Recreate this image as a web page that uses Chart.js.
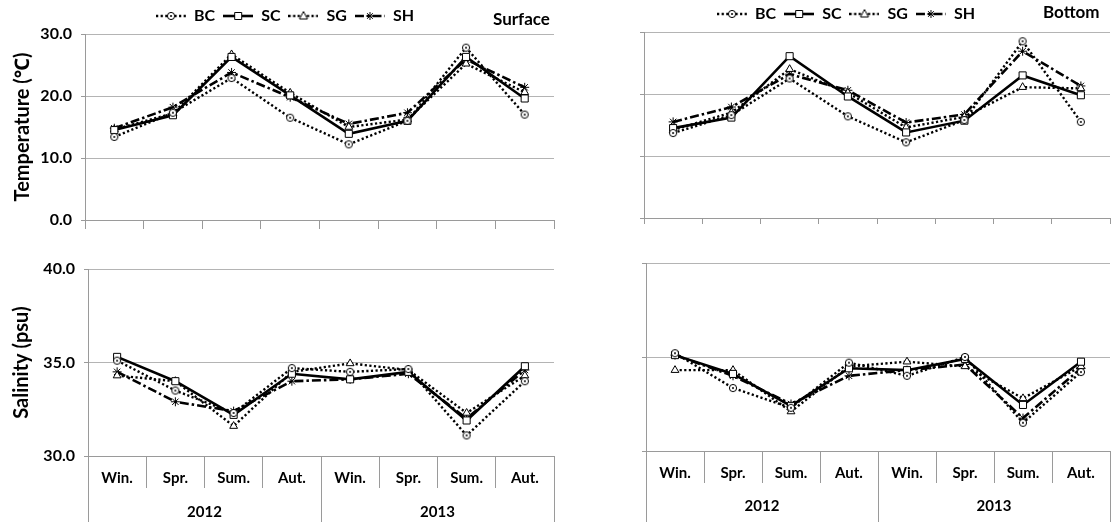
<!DOCTYPE html>
<html>
<head>
<meta charset="utf-8">
<script src="https://cdn.jsdelivr.net/npm/chart.js@4.4.1/dist/chart.umd.min.js"></script>
<style>
  body { margin: 0; background: #fff; width: 1116px; height: 522px; position: relative; overflow: hidden; font-family: Lato, "Noto Sans", sans-serif; }
  .panel { position: absolute; }
  .tag { position: absolute; font-weight: bold; font-size: 17px; line-height: 20px; color: #000; }
</style>
</head>
<body>
<canvas id="tempSurf" class="panel" width="560" height="240" style="left:0;top:0"></canvas>
<canvas id="tempBot" class="panel" width="556" height="240" style="left:560px;top:0"></canvas>
<canvas id="salSurf" class="panel" width="560" height="282" style="left:0;top:240px"></canvas>
<canvas id="salBot" class="panel" width="556" height="282" style="left:560px;top:240px"></canvas>
<div class="tag" style="left:493px;top:9px">Surface</div>
<div class="tag" style="left:1043px;top:2px">Bottom</div>

<script>
const seasons = ['Win.', 'Spr.', 'Sum.', 'Aut.', 'Win.', 'Spr.', 'Sum.', 'Aut.'];
const years = ['2012', '2013'];
const seriesNames = ['BC', 'SC', 'SG', 'SH'];

// temperature, surface
const tempSurfBC = [13.4, 17.3, 22.9, 16.5, 12.2, 16.0, 27.8, 17.0];
const tempSurfSC = [14.5, 16.9, 26.3, 20.1, 13.9, 16.0, 26.3, 19.6];
const tempSurfSG = [14.6, 17.2, 26.7, 20.5, 15.0, 16.2, 25.2, 20.6];
const tempSurfSH = [14.8, 18.2, 23.8, 19.8, 15.5, 17.3, 25.9, 21.4];

// temperature, bottom
const tempBotBC = [13.7, 16.6, 22.5, 16.4, 12.2, 15.8, 28.5, 15.5];
const tempBotSC = [14.5, 16.2, 26.1, 19.6, 13.8, 15.7, 23.0, 19.8];
const tempBotSG = [14.2, 17.0, 24.0, 20.2, 14.6, 16.3, 21.1, 20.9];
const tempBotSH = [15.5, 17.9, 23.2, 20.6, 15.4, 16.7, 26.9, 21.3];

// salinity, surface
const salSurfBC = [35.1, 33.5, 32.3, 34.7, 34.5, 34.65, 31.1, 34.0];
const salSurfSC = [35.3, 34.0, 32.2, 34.4, 34.1, 34.5, 31.9, 34.8];
const salSurfSG = [34.3, 34.0, 31.6, 34.5, 34.95, 34.6, 32.3, 34.3];
const salSurfSH = [34.5, 32.9, 32.4, 34.0, 34.1, 34.4, 32.0, 34.6];

// salinity, bottom
const salBotBC = [35.2, 33.35, 32.3, 34.7, 34.0, 35.0, 31.5, 34.2];
const salBotSC = [35.1, 34.1, 32.4, 34.4, 34.3, 34.9, 32.45, 34.75];
const salBotSG = [34.3, 34.3, 32.1, 34.5, 34.75, 34.5, 32.8, 34.5];
const salBotSH = [35.1, 34.0, 32.5, 34.0, 34.3, 34.6, 31.75, 34.4];

const gridColor = '#b4b4b4';
const axisColor = '#9a9a9a';
const family = 'Lato, "Noto Sans", sans-serif';

const lineStyles = [
  { dash: [2.2, 2.4], width: 2.4, marker: 'circleDot', radius: 4 },
  { dash: [], width: 2.6, marker: 'rect', radius: 5 },
  { dash: [2.2, 2.4], width: 2.4, marker: 'triangle', radius: 4.5 },
  { dash: [9, 3, 2.5, 3], width: 2.6, marker: 'star', radius: 4.5 }
];

function drawMarker(g, kind, x, y) {
  g.setLineDash([]);
  g.lineWidth = 1;
  g.strokeStyle = '#000';
  g.fillStyle = '#fff';
  g.beginPath();
  if (kind === 'circleDot') {
    g.arc(x, y, 3.6, 0, Math.PI * 2);
    g.fill(); g.stroke();
    g.fillStyle = '#000';
    g.beginPath();
    g.arc(x, y, 1, 0, Math.PI * 2);
    g.fill();
  } else if (kind === 'rect') {
    g.rect(x - 3.5, y - 3.5, 7, 7);
    g.fill(); g.stroke();
  } else if (kind === 'triangle') {
    g.moveTo(x, y - 4.5); g.lineTo(x + 4, y + 3); g.lineTo(x - 4, y + 3);
    g.closePath();
    g.fill(); g.stroke();
  } else {
    for (let k = 0; k < 4; k++) {
      const a = k * Math.PI / 4;
      g.moveTo(x - 4 * Math.cos(a), y - 4 * Math.sin(a));
      g.lineTo(x + 4 * Math.cos(a), y + 4 * Math.sin(a));
    }
    g.stroke();
  }
}

function circleDotImage() {
  const c = document.createElement('canvas');
  c.width = 10; c.height = 10;
  drawMarker(c.getContext('2d'), 'circleDot', 5, 5);
  return c;
}

function legendIcon(st) {
  const c = document.createElement('canvas');
  c.width = 30; c.height = 12;
  const g = c.getContext('2d');
  g.strokeStyle = '#000';
  g.lineWidth = st.width;
  g.setLineDash(st.dash);
  g.beginPath();
  g.moveTo(0, 6); g.lineTo(30, 6);
  g.stroke();
  drawMarker(g, st.marker, 15, 6);
  return c;
}

const bcPoint = circleDotImage();
const legendIcons = lineStyles.map(legendIcon);

function makeDatasets(values) {
  return values.map((data, i) => ({
    label: seriesNames[i],
    data: data,
    borderColor: '#000',
    borderWidth: lineStyles[i].width,
    borderDash: lineStyles[i].dash,
    backgroundColor: '#fff',
    pointStyle: lineStyles[i].marker === 'circleDot' ? bcPoint : lineStyles[i].marker,
    pointRadius: lineStyles[i].radius,
    pointBorderWidth: 1,
    pointBorderColor: '#000',
    pointBackgroundColor: '#fff',
    tension: 0
  }));
}

function makeChart(id, values, o) {
  const tickFont = { family: family, size: 15, weight: 'bold' };
  const scales = {
    x: {
      offset: true,
      grid: { offset: true, drawOnChartArea: false, tickLength: o.xTick, color: axisColor },
      border: { color: axisColor },
      ticks: { display: o.showX, padding: o.xPad, font: tickFont, color: '#000', maxRotation: 0, autoSkip: false },
      afterFit: s => { s.height = o.xHeight; }
    },
    y: {
      min: o.min,
      max: o.max,
      ticks: { stepSize: o.step, display: o.showY, padding: 9, font: { family: family, size: 16, weight: 'bold' }, color: '#000', callback: v => v.toFixed(1) },
      grid: { color: gridColor, tickLength: 4, tickColor: axisColor },
      border: { color: axisColor },
      title: {
        display: !!o.yTitle,
        text: o.yTitle || '',
        color: '#000',
        font: { family: family, size: 20, weight: 'bold' },
        padding: { top: o.titlePad || 0, bottom: 0 }
      },
      afterFit: s => { s.width = o.yWidth; }
    }
  };
  if (o.showX) {
    scales.x2 = {
      type: 'category',
      labels: years,
      position: 'bottom',
      weight: 1,
      offset: true,
      grid: { offset: true, drawOnChartArea: false, tickLength: o.yearTick, color: axisColor },
      border: { display: false },
      ticks: { padding: o.yearPad, font: tickFont, color: '#000', maxRotation: 0 },
      afterFit: s => { s.height = o.yearHeight; }
    };
  }

  return new Chart(document.getElementById(id), {
    type: 'line',
    data: { labels: seasons, datasets: makeDatasets(values) },
    options: {
      responsive: false,
      animation: false,
      layout: { padding: { left: o.pl, right: o.pr, top: o.pt, bottom: 0 } },
      plugins: {
        legend: {
          display: o.legend,
          labels: {
            usePointStyle: true,
            pointStyleWidth: 30,
            boxHeight: 12,
            padding: 8,
            color: '#000',
            font: { family: family, size: 16, weight: 'bold' },
            generateLabels: chart => chart.data.datasets.map((ds, i) => ({
              text: ds.label,
              pointStyle: legendIcons[i],
              fillStyle: '#fff',
              strokeStyle: '#000',
              lineWidth: 0,
              hidden: false,
              datasetIndex: i,
              fontColor: '#000'
            }))
          }
        },
        tooltip: { enabled: false }
      },
      scales: scales
    }
  });
}

makeChart('tempSurf', [tempSurfBC, tempSurfSC, tempSurfSG, tempSurfSH], {
  min: 0, max: 30, step: 10, showY: true, yTitle: 'Temperature (\u2103)', titlePad: 0,
  yWidth: 74, pl: 11, pr: 1, pt: 0, legend: true,
  showX: false, xTick: 9, xHeight: 20, xPad: 0
});

makeChart('tempBot', [tempBotBC, tempBotSC, tempBotSG, tempBotSH], {
  min: 0, max: 30, step: 10, showY: false,
  yWidth: 67, pl: 17, pr: 1, pt: -2, legend: true,
  showX: false, xTick: 6, xHeight: 22, xPad: 0
});

makeChart('salSurf', [salSurfBC, salSurfSC, salSurfSG, salSurfSH], {
  min: 30, max: 40, step: 5, showY: true, yTitle: 'Salinity (psu)', titlePad: 10,
  yWidth: 88, pl: 0, pr: 2, pt: 29, legend: false,
  showX: true, xTick: 32, xHeight: 32, xPad: -19,
  yearTick: 34, yearHeight: 34, yearPad: -19
});

makeChart('salBot', [salBotBC, salBotSC, salBotSG, salBotSH], {
  min: 30, max: 40, step: 5, showY: false,
  yWidth: 86, pl: 0, pr: 0, pt: 23, legend: false,
  showX: true, xTick: 32, xHeight: 32, xPad: -19,
  yearTick: 39, yearHeight: 39, yearPad: -25
});
</script>
</body>
</html>
